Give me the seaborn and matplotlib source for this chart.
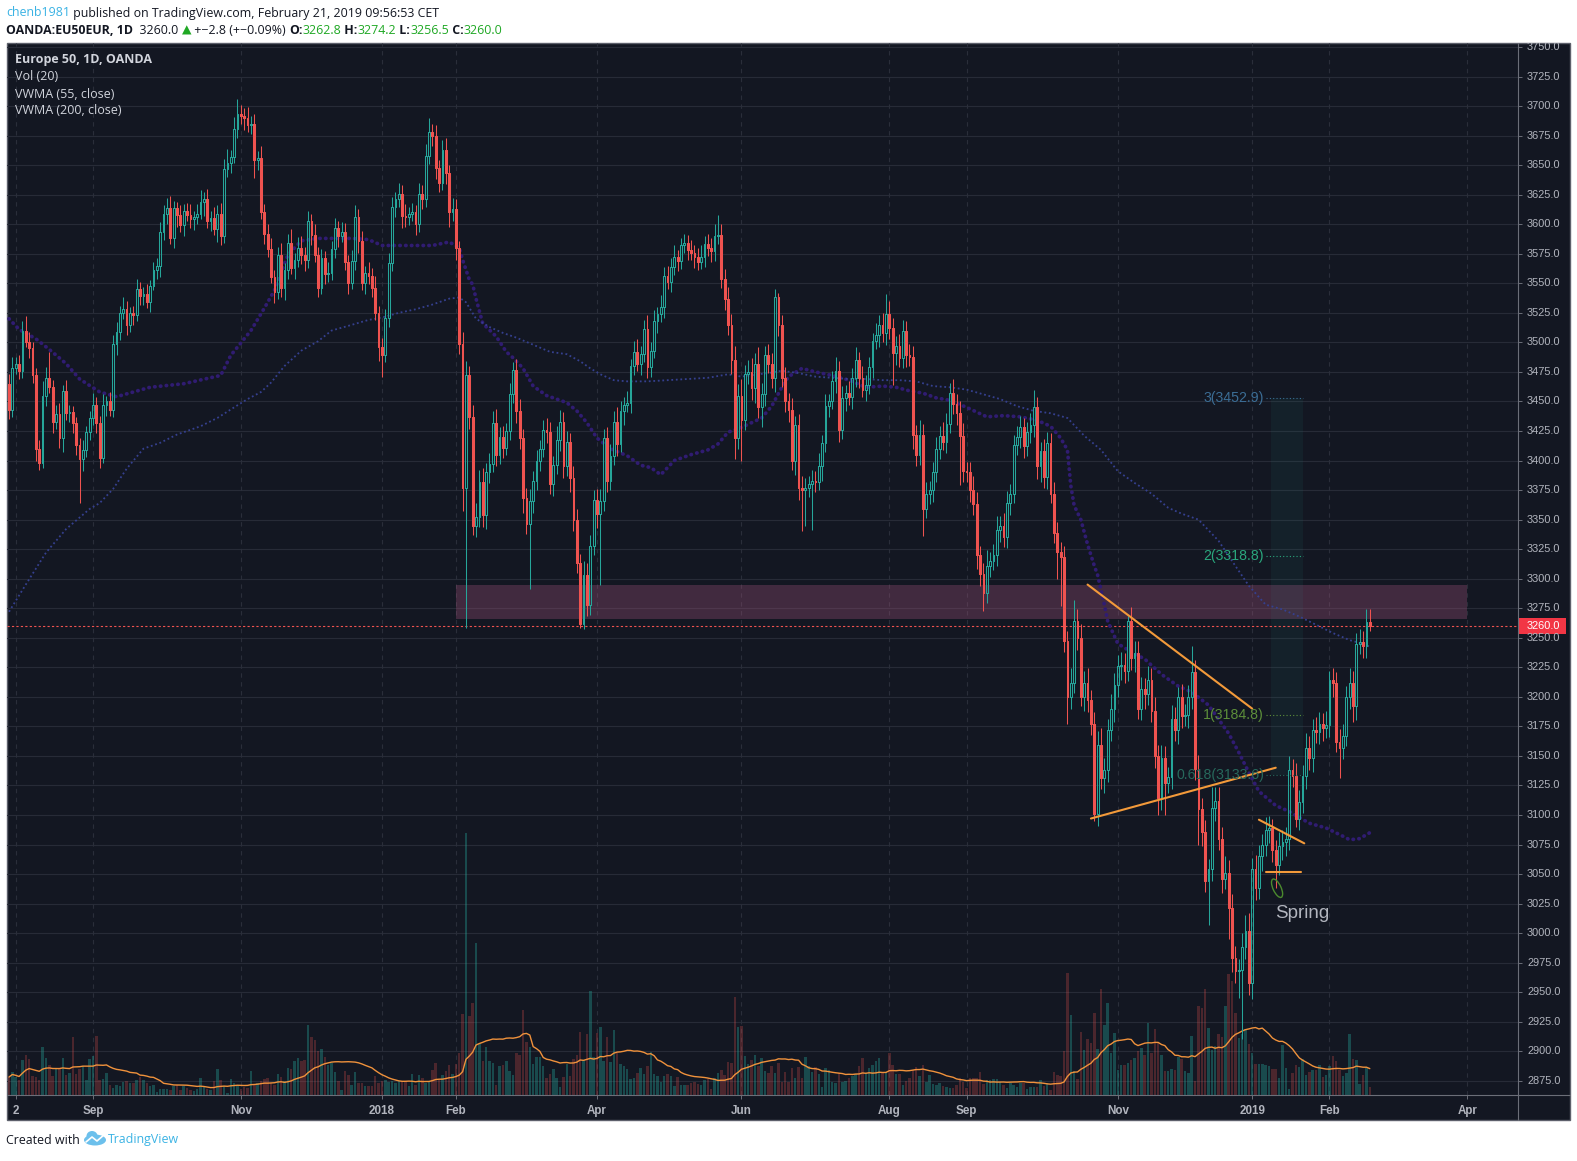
import numpy as np
import pandas as pd
import matplotlib
matplotlib.use("Agg")
import matplotlib.pyplot as plt
import seaborn as sns
from matplotlib.patches import Rectangle, Ellipse
from matplotlib.collections import PatchCollection, LineCollection
from matplotlib.lines import Line2D
from matplotlib.transforms import IdentityTransform, Bbox
from matplotlib.colors import to_rgba

# ---------------------------------------------------------------- data
open_first = 3465
close = [
    3443, 3478, 3482, 3476, 3510, 3500, 3495, 3472, 3410, 3398, 3455, 3470, 3462, 3433, 3439, 3419, 3459, 3440, 3441, 3432,
    3413, 3401, 3409, 3424, 3436, 3447, 3432, 3402, 3447, 3450, 3443, 3499, 3509, 3525, 3528, 3515, 3525, 3523, 3545, 3539,
    3541, 3534, 3548, 3561, 3565, 3593, 3609, 3614, 3588, 3614, 3608, 3599, 3611, 3608, 3604, 3606, 3609, 3619, 3621, 3603,
    3605, 3596, 3609, 3590, 3647, 3652, 3657, 3681, 3693, 3692, 3690, 3684, 3685, 3654, 3656, 3610, 3592, 3579, 3555, 3543,
    3574, 3546, 3561, 3584, 3563, 3570, 3580, 3574, 3570, 3603, 3591, 3574, 3546, 3571, 3558, 3559, 3579, 3597, 3590, 3593,
    3568, 3550, 3569, 3606, 3586, 3550, 3559, 3556, 3546, 3525, 3496, 3489, 3521, 3567, 3615, 3621, 3626, 3607, 3606, 3609,
    3610, 3600, 3626, 3621, 3658, 3678, 3675, 3648, 3635, 3663, 3643, 3610, 3613, 3580, 3499, 3377, 3472, 3437, 3345, 3352,
    3382, 3354, 3390, 3397, 3432, 3405, 3420, 3411, 3425, 3456, 3477, 3442, 3419, 3368, 3346, 3366, 3383, 3400, 3410, 3426,
    3424, 3380, 3396, 3417, 3433, 3395, 3416, 3385, 3350, 3313, 3262, 3303, 3278, 3328, 3367, 3355, 3366, 3419, 3383, 3404,
    3433, 3414, 3442, 3447, 3449, 3480, 3492, 3482, 3490, 3511, 3479, 3493, 3518, 3524, 3530, 3556, 3551, 3564, 3572, 3569,
    3582, 3584, 3578, 3576, 3572, 3568, 3572, 3583, 3580, 3577, 3590, 3591, 3554, 3537, 3515, 3485, 3419, 3455, 3434, 3473,
    3475, 3461, 3482, 3445, 3456, 3489, 3482, 3470, 3538, 3515, 3470, 3450, 3443, 3400, 3430, 3377, 3375, 3377, 3380, 3383,
    3382, 3395, 3415, 3446, 3450, 3467, 3476, 3426, 3453, 3457, 3454, 3470, 3485, 3470, 3460, 3464, 3479, 3501, 3506, 3515,
    3508, 3524, 3512, 3491, 3497, 3487, 3510, 3489, 3488, 3422, 3405, 3422, 3359, 3372, 3375, 3390, 3410, 3421, 3416, 3431,
    3457, 3448, 3440, 3421, 3391, 3390, 3375, 3363, 3320, 3304, 3288, 3311, 3315, 3320, 3341, 3345, 3335, 3364, 3372, 3413,
    3420, 3428, 3412, 3424, 3430, 3445, 3395, 3408, 3386, 3415, 3372, 3339, 3323, 3318, 3247, 3200, 3212, 3264, 3250, 3200,
    3212, 3197, 3177, 3101, 3159, 3131, 3138, 3172, 3190, 3210, 3226, 3227, 3222, 3264, 3233, 3237, 3190, 3207, 3202, 3214,
    3188, 3150, 3114, 3148, 3127, 3132, 3181, 3172, 3200, 3184, 3185, 3200, 3221, 3139, 3105, 3086, 3044, 3054, 3106, 3112,
    3080, 3046, 3051, 3021, 2979, 2968, 2969, 2988, 3002, 2958, 3054, 3038, 3065, 3075, 3087, 3089, 3070, 3058, 3074, 3077,
    3080, 3138, 3133, 3097, 3111, 3133, 3157, 3148, 3172, 3170, 3177, 3174, 3176, 3214, 3212, 3162, 3157, 3167, 3200, 3212,
    3192, 3245, 3246, 3243, 3263, 3260,
]
wick_up = [
    8, 10, 6, 7, 8, 12, 9, 5, 6, 7, 12, 9, 22, 6, 8, 10, 5, 9, 6, 5,
    5, 6, 8, 5, 6, 10, 7, 6, 9, 5, 8, 7, 8, 6, 10, 7, 5, 6, 9, 6,
    6, 8, 5, 7, 6, 9, 7, 8, 10, 6, 5, 8, 6, 7, 9, 5, 8, 10, 6, 9,
    6, 10, 7, 9, 8, 12, 6, 10, 13, 8, 6, 9, 7, 8, 6, 10, 7, 8, 9, 6,
    7, 10, 6, 8, 12, 6, 9, 10, 7, 8, 6, 9, 7, 8, 6, 9, 7, 8, 6, 9,
    8, 6, 9, 10, 7, 8, 6, 9, 7, 10, 6, 8, 7, 9, 8, 6, 9, 7, 10, 6,
    8, 6, 9, 7, 10, 12, 7, 9, 6, 8, 10, 7, 9, 8, 6, 10, 12, 8, 10, 12,
    10, 12, 8, 9, 10, 12, 8, 9, 7, 10, 6, 9, 10, 8, 9, 10, 8, 9, 7, 8,
    10, 9, 8, 12, 10, 8, 9, 7, 10, 9, 8, 12, 10, 9, 8, 9, 10, 8, 9, 10,
    9, 12, 8, 7, 10, 6, 9, 11, 7, 8, 12, 7, 9, 6, 10, 8, 9, 7, 10, 6,
    6, 8, 7, 9, 6, 8, 10, 7, 9, 8, 10, 17, 9, 8, 10, 9, 12, 10, 14, 8,
    10, 12, 9, 14, 10, 8, 10, 9, 7, 4, 8, 9, 7, 10, 8, 9, 10, 8, 7, 9,
    8, 11, 7, 10, 6, 9, 12, 8, 10, 7, 10, 8, 11, 7, 10, 8, 9, 7, 10, 8,
    10, 17, 11, 9, 8, 10, 9, 8, 10, 9, 8, 12, 9, 10, 8, 9, 10, 8, 12, 9,
    9, 12, 8, 10, 11, 8, 9, 12, 10, 8, 9, 13, 8, 9, 12, 8, 11, 10, 8, 9,
    9, 10, 8, 9, 10, 15, 9, 8, 10, 9, 8, 10, 9, 8, 10, 9, 12, 18, 10, 12,
    10, 12, 9, 10, 12, 15, 10, 9, 12, 10, 9, 11, 10, 4, 12, 10, 10, 10, 9, 12,
    10, 12, 9, 11, 10, 9, 12, 10, 8, 11, 9, 10, 22, 10, 12, 9, 10, 9, 18, 12,
    12, 10, 14, 11, 12, 10, 9, 12, 13, 15, 10, 12, 10, 9, 11, 10, 8, 9, 12, 10,
    10, 12, 9, 11, 10, 9, 12, 10, 9, 11, 10, 9, 12, 8, 10, 9, 11, 10, 9, 12,
    10, 9, 11, 10, 11, 11,
]
wick_dn = [
    8, 6, 5, 7, 6, 4, 8, 6, 10, 6, 4, 9, 5, 10, 6, 8, 12, 6, 7, 9,
    8, 37, 10, 6, 7, 6, 9, 8, 4, 9, 5, 6, 10, 7, 5, 9, 6, 8, 5, 7,
    7, 5, 8, 4, 7, 10, 6, 9, 5, 8, 10, 6, 9, 5, 7, 9, 6, 5, 12, 6,
    9, 5, 11, 8, 6, 7, 9, 5, 8, 7, 10, 6, 8, 15, 8, 6, 9, 7, 5, 10,
    6, 8, 10, 7, 5, 9, 6, 8, 10, 7, 9, 6, 8, 5, 9, 7, 6, 8, 9, 5,
    7, 9, 5, 8, 10, 6, 9, 7, 8, 6, 12, 18, 6, 8, 7, 9, 6, 10, 8, 7,
    6, 9, 7, 8, 6, 7, 9, 10, 8, 6, 9, 12, 7, 10, 9, 20, 119, 10, 8, 10,
    8, 10, 12, 9, 7, 10, 8, 9, 6, 8, 7, 10, 9, 12, 8, 55, 10, 8, 9, 7,
    9, 8, 10, 7, 9, 10, 8, 12, 10, 8, 4, 5, 10, 9, 8, 12, 60, 9, 10, 8,
    8, 10, 7, 12, 6, 9, 8, 6, 10, 7, 9, 8, 6, 10, 7, 9, 6, 8, 7, 9,
    7, 6, 8, 6, 9, 7, 6, 8, 7, 9, 8, 7, 8, 10, 9, 12, 18, 9, 34, 8,
    8, 10, 12, 9, 17, 10, 8, 9, 12, 10, 8, 9, 10, 8, 12, 10, 35, 30, 8, 39,
    9, 7, 12, 8, 9, 6, 10, 10, 8, 11, 7, 10, 8, 9, 6, 10, 8, 9, 7, 10,
    8, 10, 9, 27, 10, 8, 9, 10, 8, 12, 10, 9, 23, 8, 9, 10, 8, 9, 7, 10,
    8, 9, 10, 42, 9, 8, 10, 9, 12, 10, 15, 9, 10, 8, 9, 10, 8, 9, 10, 8,
    8, 9, 10, 8, 9, 10, 11, 13, 9, 10, 8, 9, 23, 41, 9, 23, 10, 9, 10, 8,
    12, 10, 9, 6, 10, 9, 12, 10, 9, 11, 10, 12, 10, 9, 10, 12, 9, 10, 12, 9,
    9, 10, 14, 10, 27, 8, 10, 9, 12, 10, 9, 11, 10, 9, 30, 12, 9, 37, 10, 11,
    10, 12, 9, 26, 12, 10, 23, 59, 10, 10, 14, 10, 9, 12, 10, 11, 10, 20, 9, 12,
    12, 10, 9, 7, 10, 9, 11, 10, 12, 9, 10, 11, 9, 10, 12, 9, 26, 10, 9, 10,
    13, 12, 9, 10, 10, 4,
]
volume = [
    18, 23, 18, 15, 35, 40, 36, 19, 18, 15, 48, 37, 30, 19, 26, 26, 37, 20, 22,
    58, 21, 26, 29, 15, 36, 39, 59, 15, 16, 22, 10, 7, 10, 9, 13, 14, 12, 12,
    15, 18, 15, 12, 9, 10, 3, 6, 6, 6, 5, 9, 10, 5, 9, 7, 5, 4, 6,
    17, 8, 6, 5, 14, 26, 15, 9, 2, 16, 12, 10, 6, 8, 7, 24, 10, 12, 14,
    16, 17, 12, 10, 21, 18, 14, 27, 26, 34, 37, 34, 35, 70, 58, 55, 44, 46, 38,
    30, 32, 23, 14, 5, 24, 20, 10, 23, 12, 12, 9, 9, 9, 19, 12, 14, 15, 13,
    14, 12, 14, 14, 14, 9, 21, 10, 20, 17, 12, 14, 25, 32, 15, 20, 24,
    30, 21, 31, 42, 81, 262,
    79, 92, 152, 51, 34, 48, 34, 32, 10, 29, 30, 34, 24, 20, 42, 40, 85, 53, 48, 31, 38,
    38, 29, 17, 21, 26, 17, 8, 18, 31, 19,
    36, 40, 63, 35, 61, 104, 38, 62, 68, 34,
    58, 33, 65, 42, 31, 29, 26, 16, 17, 22,
    27, 21, 29, 43, 21, 19, 13, 19, 21, 19,
    9, 18, 10, 10, 10, 12, 13, 11, 10, 15,
    16, 6, 17, 22, 25, 20, 33, 32, 98, 68,
    69, 39, 31, 35, 40, 29, 37, 24, 22, 29,
    22, 32, 13, 23, 13, 27, 17, 28, 17, 38,
    29, 23, 28, 21, 8, 27, 25, 13, 12, 22,
    13, 14, 17, 19, 21, 29, 37, 22, 27, 30,
    34, 37, 22, 23, 42, 30, 21, 21, 10, 14,
    17, 25, 28, 19, 30, 13, 20, 11, 10, 12,
    9, 8, 7, 7, 10, 17, 13, 7, 17, 17,
    17, 23, 11, 15, 15, 16, 16, 13, 10, 7,
    12,
    10, 8, 12, 12, 6, 8, 8, 8, 15, 9,
    12, 5, 23, 20, 19, 44, 122, 80, 24, 16,
    63, 45, 56, 52, 82, 46, 106, 70, 92, 42,
    62, 25, 30, 30, 32, 35, 37, 44, 47, 40,
    72, 42, 66, 52, 40, 24, 24, 26, 25, 38,
    36, 24, 22, 59, 14, 89, 87, 106, 67, 45,
    49, 61, 58, 89, 121, 114, 82, 57, 61, 66,
    51, 42, 31, 31, 31, 30, 29, 26, 26, 17,
    50, 27, 6, 22, 30, 28, 36, 20, 23, 25,
    25, 30, 18, 20, 29, 39, 34, 25, 19, 22,
    61, 36, 35, 11, 20, 28, 8,
]
vwma55_bar = [0, 3, 8, 12, 17, 21, 27, 32, 42, 52, 63, 66, 70, 72, 76, 79, 83, 87, 92, 102,
              107, 111, 116, 121, 126, 131, 134, 135, 137, 138, 139, 141, 145, 148, 150, 153, 156, 160, 166, 169,
              172, 175, 179, 184, 188, 191, 194, 198, 203, 208, 211, 214, 218, 221, 224, 227, 230, 232, 236, 240,
              245, 250, 255, 260, 264, 268, 272, 276, 280, 285, 288, 291, 296, 301, 306, 310, 313, 315, 316, 317,
              319, 321, 323, 324, 326, 327, 330, 334, 338, 343, 348, 352, 357, 363, 366, 369, 372, 377, 381, 387,
              392, 397, 399, 402, 405]
vwma55_val = [3520, 3511, 3503, 3494, 3482, 3469, 3458, 3454, 3462, 3465, 3472, 3489, 3503, 3510, 3529, 3544, 3574, 3586, 3588, 3588,
              3587, 3582, 3582, 3582, 3582, 3585, 3580, 3570, 3553, 3549, 3537, 3516, 3505, 3492, 3487, 3478, 3463, 3455, 3449, 3442,
              3432, 3419, 3410, 3404, 3396, 3394, 3388, 3400, 3405, 3409, 3414, 3424, 3428, 3432, 3436, 3446, 3462, 3471, 3478, 3475,
              3472, 3468, 3462, 3463, 3462, 3459, 3457, 3453, 3451, 3445, 3441, 3437, 3438, 3437, 3434, 3429, 3419, 3409, 3379, 3362,
              3350, 3329, 3311, 3303, 3278, 3264, 3245, 3238, 3232, 3219, 3209, 3204, 3193, 3169, 3153, 3136, 3120, 3108, 3103, 3093,
              3089, 3082, 3079, 3080, 3085]
vwma200_bar = [0, 5, 11, 17, 24, 27, 31, 35, 40, 45, 50, 57, 62, 67, 71, 75, 78, 82, 87, 92,
               96, 101, 107, 111, 116, 121, 126, 131, 134, 136, 139, 143, 147, 151, 156, 161, 166, 170, 173, 176,
               180, 184, 190, 196, 202, 208, 214, 218, 223, 226, 230, 235, 240, 245, 250, 255, 260, 265, 270, 275,
               280, 285, 290, 295, 300, 305, 310, 315, 320, 325, 330, 335, 340, 345, 349, 354, 360, 364, 369, 374,
               379, 384, 389, 394, 399, 404, 405]
vwma200_val = [3272, 3295, 3322, 3342, 3359, 3364, 3376, 3393, 3410, 3415, 3422, 3429, 3436, 3445, 3452, 3458, 3466, 3480, 3493, 3501,
               3510, 3514, 3519, 3521, 3525, 3528, 3532, 3537, 3538, 3534, 3520, 3513, 3508, 3504, 3498, 3492, 3490, 3484, 3478, 3473,
               3468, 3467, 3467, 3468, 3469, 3470, 3473, 3471, 3473, 3474, 3476, 3474, 3471, 3470, 3469, 3469, 3468, 3468, 3467, 3463,
               3462, 3460, 3456, 3452, 3446, 3442, 3440, 3436, 3421, 3409, 3391, 3381, 3372, 3360, 3355, 3350, 3332, 3315, 3294, 3278,
               3274, 3268, 3261, 3254, 3248, 3244, 3242]
month_labels = ["2", "Sep", "Nov", "2018", "Feb", "Apr", "Jun", "Aug", "Sep", "Nov", "2019", "Feb", "Apr"]
month_bar = [2, 25, 69, 111, 133, 175, 218, 262, 285, 330, 370, 393, 434]
price_ticks = list(range(2875, 3751, 25))
last_price = 3260.0
zone_low, zone_high = 3266, 3295
zone_bar = (133, 434)
fib_labels = ["3(3452.9)", "2(3318.8)", "1(3184.8)", "0.618(3133.6)"]
fib_levels = [3452.9, 3318.8, 3184.8, 3133.6]
fib_bar = (375.5, 385.0)
trend_lines = [((321, 3295), (370, 3190)),
               ((322, 3097), (377, 3140)),
               ((372, 3096), (385.5, 3076)),
               ((374, 3052), (384.5, 3052))]
spring_point = (377.4, 3038)
spring_text_price = 3017
legend_lines = ["Europe 50, 1D, OANDA", "Vol (20)", "VWMA (55, close)", "VWMA (200, close)"]

# ---------------------------------------------------------------- style
W, H, DPI = 1577, 1161, 100
BG = "#131722"
UP = "#26a69a"
DOWN = "#ef5350"
AXC = "#6b6e78"
TXT = "#b2b5be"

sns.set_theme(style="dark")
plt.rcParams["font.family"] = ["Open Sans", "DejaVu Sans"]
plt.rcParams["axes.unicode_minus"] = False

n = min(len(close), len(wick_up), len(wick_dn), len(volume))
df = pd.DataFrame({"bar": np.arange(n), "close": close[:n], "wu": wick_up[:n],
                   "wd": wick_dn[:n], "volume": volume[:n]})
df["open"] = [open_first] + list(df["close"].iloc[:-1])
df["up"] = df["close"] >= df["open"]
df["top"] = df[["open", "close"]].max(axis=1)
df["bot"] = df[["open", "close"]].min(axis=1)
df["high"] = df["top"] + df["wu"]
df["low"] = df["bot"] - df["wd"]
df["vol_ma"] = df["volume"].rolling(20, min_periods=1).mean()

fig = plt.figure(figsize=(W / DPI, H / DPI), dpi=DPI, facecolor="white")

BOX = (7, 43, 1570, 1120)      # left, top, right, bottom (px)
PANE = (7, 43, 1518, 1095)

box = Rectangle((BOX[0] / W, 1 - BOX[3] / H), (BOX[2] - BOX[0]) / W, (BOX[3] - BOX[1]) / H,
                transform=fig.transFigure, facecolor=BG, edgecolor="#5d606b", lw=1.0, zorder=-10)
fig.add_artist(box)

axv = fig.add_axes([PANE[0] / W, 1 - PANE[3] / H, (PANE[2] - PANE[0]) / W, (PANE[3] - PANE[1]) / H])
ax = axv.twinx()
for a in (axv, ax):
    a.patch.set_visible(False)
    for s in a.spines.values():
        s.set_visible(False)
    a.grid(False)

SP = 3.36
x0 = (PANE[0] - 9) / SP
x1 = (PANE[2] - 9) / SP
axv.set_xlim(x0, x1)
ytop = 3750 + (47 - PANE[1]) / 1.1815
ybot = 3750 - (PANE[3] - 47) / 1.1815
ax.set_ylim(ybot, ytop)
axv.set_ylim(0, PANE[3] - PANE[1])

# grid (behind volume)
axv.hlines(price_ticks, x0 - 5, x1 + 5, transform=ax.transData, colors="#272b37", linewidth=0.8, zorder=0)
axv.vlines(month_bar, 0, PANE[3] - PANE[1], colors="#2a2e3a", linewidth=0.8,
           linestyles=(0, (4, 4)), zorder=0)

# volume
vcol = [to_rgba(UP, 0.36) if u else to_rgba(DOWN, 0.26) for u in df["up"]]
axv.bar(df["bar"], df["volume"], width=0.74, color=vcol, linewidth=0, zorder=2)
sns.lineplot(x=df["bar"], y=df["vol_ma"], ax=axv, color="#f0923c", linewidth=1.0, zorder=3)
axv.set_ylim(0, PANE[3] - PANE[1])

# zone, last price line, fib band
ax.add_patch(Rectangle((zone_bar[0], zone_low), zone_bar[1] - zone_bar[0], zone_high - zone_low,
                       facecolor="#9c5078", alpha=0.34, edgecolor="none", zorder=1))
ax.axhline(last_price, color=DOWN, lw=0.8, ls=(0, (2, 2)), zorder=1.5)
ax.add_patch(Rectangle((fib_bar[0], fib_levels[-1]), fib_bar[1] - fib_bar[0], fib_levels[0] - fib_levels[-1],
                       facecolor=UP, alpha=0.07, edgecolor="none", zorder=1))
fib_cols = ["#3b6d95", "#2aa77d", "#5d8f3a", "#27695c"]
for lab, lev, c in zip(fib_labels, fib_levels, fib_cols):
    ax.hlines(lev, fib_bar[0] - 1.5, fib_bar[1], colors=c, lw=0.8, linestyles=(0, (1, 2)), zorder=4)
    ax.text(fib_bar[0] - 2.0, lev, lab, ha="right", va="center", color=c, fontsize=10.2,
            family=["Liberation Sans", "DejaVu Sans"], zorder=5)

# VWMA lines
sns.lineplot(x=vwma55_bar, y=vwma55_val, ax=ax, color="#301c72", linewidth=2.7,
             linestyle=(0, (0.1, 1.45)), dash_capstyle="round", zorder=2)
sns.lineplot(x=vwma200_bar, y=vwma200_val, ax=ax, color="#35408f", linewidth=1.3,
             linestyle=(0, (1.0, 1.5)), zorder=2)

# candles
w = 0.52
up_rects, dn_rects, segs, scol = [], [], [], []
for r in df.itertuples():
    h = r.top - r.bot
    rect = Rectangle((r.bar - w / 2, r.bot), w, h)
    (up_rects if r.up else dn_rects).append(rect)
    col = UP if r.up else DOWN
    segs.append([(r.bar, r.top), (r.bar, r.high)])
    segs.append([(r.bar, r.low), (r.bar, r.bot)])
    scol += [col, col]
ax.add_collection(LineCollection(segs, colors=scol, linewidths=0.75, zorder=3))
ax.add_collection(PatchCollection(up_rects, facecolor="none", edgecolor=UP, linewidth=0.75, zorder=3.1))
ax.add_collection(PatchCollection(dn_rects, facecolor=DOWN, edgecolor=DOWN, linewidth=0.75, zorder=3.1))

# trend lines
for (b0, p0), (b1, p1) in trend_lines:
    ax.plot([b0, b1], [p0, p1], color="#f39a3a", lw=1.5, solid_capstyle="round", zorder=4)

ax.set_ylim(ybot, ytop)
axv.set_xlim(x0, x1)
for a in (ax, axv):
    a.set_xlabel("")
    a.set_ylabel("")

# ticks
ax.set_yticks(price_ticks)
ax.tick_params(axis="y", which="both", right=True, left=False, length=3, width=0.7,
               color=AXC, labelright=False, labelleft=False)
axv.set_yticks([])
axv.set_xticks(month_bar)
axv.set_xticklabels(month_labels)
axv.tick_params(axis="x", bottom=True, length=3, width=0.7, color=AXC, pad=4,
                labelsize=8.4, labelcolor=TXT)
for t in axv.get_xticklabels():
    t.set_fontfamily(["Liberation Sans", "DejaVu Sans"])
    t.set_fontweight("bold")

# axis lines
fig.add_artist(Line2D([PANE[2] / W, PANE[2] / W], [1 - BOX[1] / H, 1 - BOX[3] / H],
                      transform=fig.transFigure, color=AXC, lw=0.8))
fig.add_artist(Line2D([BOX[0] / W, BOX[2] / W], [1 - PANE[3] / H, 1 - PANE[3] / H],
                      transform=fig.transFigure, color=AXC, lw=0.8))

# price labels (clipped to chart box)
clip = Bbox.from_extents(BOX[0], H - BOX[3], BOX[2], H - BOX[1])
for p in price_ticks:
    yd = ax.transData.transform((0, p))[1]
    t = fig.text(1527 / W, yd / H, f"{p:.1f}", va="center", ha="left", color=TXT, fontsize=7.9,
                 family=["Liberation Sans", "DejaVu Sans"])
    t.set_clip_box(clip)
    t.set_clip_on(True)
yd = ax.transData.transform((0, last_price))[1]
fig.add_artist(Rectangle((PANE[2], yd - 8), 48, 16, transform=IdentityTransform(),
                         facecolor="#f23645", edgecolor="none"))
fig.text(1527 / W, yd / H, f"{last_price:.1f}", va="center", ha="left", color="white", fontsize=7.9,
         family=["Liberation Sans", "DejaVu Sans"])

# Spring annotation
cx, cy = ax.transData.transform(spring_point)
fig.add_artist(Ellipse((cx, cy), 8, 20, angle=25, transform=IdentityTransform(),
                       facecolor="none", edgecolor="#4b8a2e", lw=1.0))
sx, sy = ax.transData.transform((spring_point[0] - 0.6, spring_text_price))
fig.text(sx / W, sy / H, "Spring", color=TXT, fontsize=13.5, va="center", ha="left",
         family=["Liberation Sans", "DejaVu Sans"])

# legend texts in chart
for i, s in enumerate(legend_lines):
    fig.text(15 / W, 1 - (60 + 17 * i) / H, s, color="#d1d4dc", fontsize=9.0, va="center", ha="left",
             fontweight="bold" if i == 0 else "normal")

# header and footer (text runs)
renderer = fig.canvas.get_renderer()


def runs(x_px, y_px, pieces, size):
    x = x_px
    for txt, color, weight in pieces:
        t = fig.text(x / W, 1 - y_px / H, txt, color=color, fontsize=size, fontweight=weight,
                     va="center", ha="left")
        x += t.get_window_extent(renderer=renderer).width
    return x


DARK = "#131722"
GREEN = "#1fa824"
runs(6, 13, [("chenb1981", "#3bb3e4", "normal"),
             (" published on TradingView.com, February 21, 2019 09:56:53 CET", DARK, "normal")], 8.9)
runs(6, 30, [("OANDA:EU50EUR, 1D", DARK, "bold"), ("  3260.0 ", DARK, "normal"),
             ("\u25b2", GREEN, "normal"), (" +\u22122.8 (+\u22120.09%) ", DARK, "normal"),
             ("O:", DARK, "bold"), ("3262.8", GREEN, "normal"),
             (" H:", DARK, "bold"), ("3274.2", GREEN, "normal"),
             (" L:", DARK, "bold"), ("3256.5", GREEN, "normal"),
             (" C:", DARK, "bold"), ("3260.0", GREEN, "normal")], 8.9)
xe = runs(6, 1140, [("Created with ", DARK, "normal")], 8.9)
# small cloud logo
lx = xe + 1
fig.add_artist(Ellipse((lx + 11, H - 1140), 22, 11, transform=IdentityTransform(),
                       facecolor="#6cc0ec", edgecolor="none"))
fig.add_artist(Ellipse((lx + 8, H - 1136), 11, 10, transform=IdentityTransform(),
                       facecolor="#6cc0ec", edgecolor="none"))
fig.add_artist(Line2D([lx + 2, lx + 8, lx + 13, lx + 21], [H - 1142, H - 1137, H - 1141, H - 1134],
                      transform=IdentityTransform(), color="white", lw=1.2))
runs(lx + 24, 1140, [("TradingView", "#3bb3e4", "normal")], 8.9)

fig.savefig("out.png", dpi=DPI, facecolor="white")
